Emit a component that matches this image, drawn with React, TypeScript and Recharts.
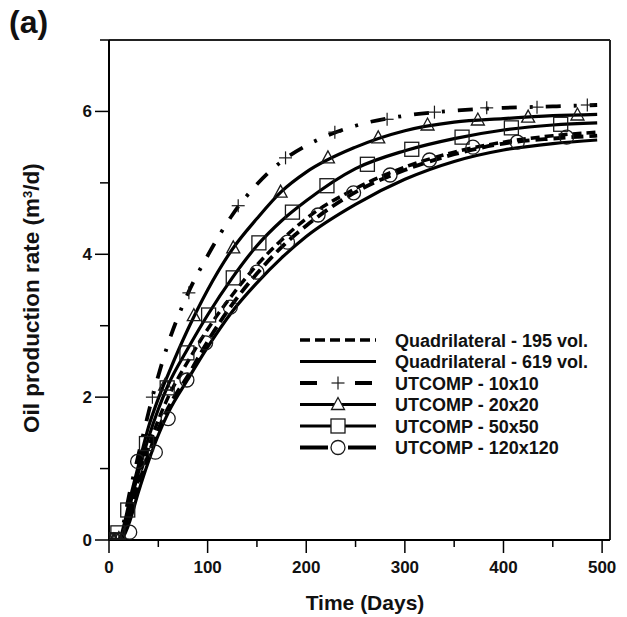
import React from "react";
import { ComposedChart, Line, XAxis, YAxis, ReferenceLine } from "recharts";

const FONT = "'Liberation Sans', Arial, Helvetica, sans-serif";

// days at which the simulated curves were sampled
const DAYS = [0, 10, 15, 20, 30, 40, 50, 60, 80, 100, 125, 150, 175, 200, 250, 300, 350, 400, 450, 495];

const QUAD_195 = [0, 0, 0.12, 0.35, 0.85, 1.3, 1.68, 2.0, 2.5, 2.95, 3.43, 3.85, 4.2, 4.5, 4.92, 5.22, 5.43, 5.57, 5.66, 5.71];
const QUAD_619 = [0, 0, 0.06, 0.22, 0.68, 1.1, 1.47, 1.78, 2.25, 2.7, 3.2, 3.6, 3.95, 4.25, 4.7, 5.05, 5.3, 5.46, 5.55, 5.6];
const UT_10 = [0, 0, 0.25, 0.6, 1.2, 1.78, 2.3, 2.75, 3.45, 3.98, 4.55, 4.98, 5.3, 5.52, 5.8, 5.94, 6.01, 6.05, 6.07, 6.09];
const UT_20 = [0, 0, 0.2, 0.5, 1.05, 1.58, 1.98, 2.32, 2.95, 3.5, 4.07, 4.5, 4.88, 5.15, 5.5, 5.73, 5.85, 5.9, 5.94, 5.96];
const UT_50 = [0, 0, 0.15, 0.42, 0.95, 1.43, 1.83, 2.17, 2.68, 3.15, 3.67, 4.12, 4.47, 4.75, 5.2, 5.45, 5.62, 5.74, 5.81, 5.84];
const UT_120 = [0, 0, 0.1, 0.3, 0.78, 1.2, 1.55, 1.85, 2.3, 2.78, 3.3, 3.73, 4.1, 4.4, 4.87, 5.18, 5.4, 5.55, 5.62, 5.66];

// marker points (day, rate)
const MARK_10 = [[0, 0], [5, 0], [10, 0.02], [44, 2.0], [81, 3.46], [131, 4.68], [179, 5.35], [229, 5.71], [282, 5.89], [330, 5.99], [383, 6.05], [434, 6.06], [485, 6.09]];
const MARK_20 = [[0, 0], [5, 0], [10, 0.02], [57, 2.17], [86, 3.14], [126, 4.09], [174, 4.87], [222, 5.35], [273, 5.63], [323, 5.81], [374, 5.88], [425, 5.92], [475, 5.95]];
const MARK_50 = [[0, 0], [5, 0], [9, 0.1], [19, 0.42], [38, 1.35], [59, 2.13], [79, 2.62], [101, 3.15], [126, 3.67], [152, 4.16], [186, 4.59], [221, 4.96], [262, 5.26], [307, 5.47], [358, 5.64], [408, 5.77], [458, 5.82]];
const MARK_120 = [[0, 0], [5, 0], [10, 0], [21, 0.11], [29, 1.1], [47, 1.23], [60, 1.7], [79, 2.24], [98, 2.76], [123, 3.26], [150, 3.75], [181, 4.17], [212, 4.55], [248, 4.86], [285, 5.11], [325, 5.32], [369, 5.5], [414, 5.57], [464, 5.64]];

const X_TICKS = [0, 50, 100, 150, 200, 250, 300, 350, 400, 450, 500];
const Y_TICKS = [0, 1, 2, 3, 4, 5, 6, 7];

const SERIES = [
  { key: "q195", name: "Quadrilateral - 195 vol.", values: QUAD_195, dash: "9 5", width: 3.5, marker: null, marks: null, legendDash: "10 5" },
  { key: "q619", name: "Quadrilateral - 619 vol.", values: QUAD_619, dash: undefined, width: 3.2, marker: null, marks: null, legendDash: undefined },
  { key: "u10", name: "UTCOMP - 10x10", values: UT_10, dash: "15 13 3 13", width: 3.8, marker: "plus", marks: MARK_10, legendDash: "17 38 17" },
  { key: "u20", name: "UTCOMP - 20x20", values: UT_20, dash: undefined, width: 3.2, marker: "tri", marks: MARK_20, legendDash: undefined },
  { key: "u50", name: "UTCOMP - 50x50", values: UT_50, dash: undefined, width: 3.2, marker: "square", marks: MARK_50, legendDash: undefined },
  { key: "u120", name: "UTCOMP - 120x120", values: UT_120, dash: "12 6", width: 3.8, marker: "circle", marks: MARK_120, legendDash: "28 20 28" },
];

const rows = DAYS.map((d, i) => {
  const r: Record<string, number> = { d };
  SERIES.forEach((s) => (r[s.key] = s.values[i]));
  return r;
});

function Marker({ cx, cy, kind, fill = "none" }: { cx: number; cy: number; kind: string; fill?: string }) {
  const st = { stroke: "#1a1a1a", strokeWidth: 1.3, fill };
  if (kind === "plus")
    return (
      <g stroke="#1a1a1a" strokeWidth={1.2}>
        <line x1={cx - 6.5} x2={cx + 6.5} y1={cy} y2={cy} />
        <line x1={cx} x2={cx} y1={cy - 6.5} y2={cy + 6.5} />
      </g>
    );
  if (kind === "tri")
    return <polygon points={`${cx},${cy - 7} ${cx - 6.5},${cy + 5} ${cx + 6.5},${cy + 5}`} {...st} />;
  if (kind === "square") return <rect x={cx - 7} y={cy - 7} width={14} height={14} {...st} />;
  return <circle cx={cx} cy={cy} r={7} {...st} />;
}

function XTick(props: any) {
  const { x, y, payload } = props;
  const major = payload.value % 100 === 0;
  return (
    <g>
      <line x1={x} x2={x} y1={y} y2={y + (major ? 13 : 7)} stroke="#000" strokeWidth={1.5} />
      {major && (
        <text x={x} y={y + 33} textAnchor="middle" fontFamily={FONT} fontWeight="bold" fontSize={17} fill="#111">
          {payload.value}
        </text>
      )}
    </g>
  );
}

function YTick(props: any) {
  const { x, y, payload } = props;
  const major = payload.value % 2 === 0 && payload.value < 7;
  return (
    <g>
      <line x1={x - (major ? 14 : 9)} x2={x} y1={y} y2={y} stroke="#000" strokeWidth={1.5} />
      {major && (
        <text x={x - 17} y={y + 6} textAnchor="end" fontFamily={FONT} fontWeight="bold" fontSize={17} fill="#111">
          {payload.value}
        </text>
      )}
    </g>
  );
}

function LegendBox() {
  return (
    <svg width={330} height={135} style={{ position: "absolute", left: 296, top: 328 }}>
      {SERIES.map((s, i) => {
        const cy = 12 + i * 21.5;
        return (
          <g key={s.key}>
            <line x1={4} x2={80} y1={cy} y2={cy} stroke="#000" strokeWidth={s.width} strokeDasharray={s.legendDash} />
            {s.marker && <Marker cx={42} cy={cy} kind={s.marker} fill="#fff" />}
            <text x={99} y={cy + 6.5} fontFamily={FONT} fontWeight="bold" fontSize={18} fill="#111">
              {s.name}
            </text>
          </g>
        );
      })}
    </svg>
  );
}

export default function App() {
  return (
    <div style={{ position: "absolute", left: 0, top: 0, width: 627, height: 617, background: "#fff" }}>
      <div style={{ position: "absolute", left: 9, top: 4, fontFamily: FONT, fontWeight: "bold", fontSize: 32, color: "#111" }}>
        (a)
      </div>
      <ComposedChart width={627} height={617} data={rows} margin={{ top: 40, right: 17, bottom: 17, left: 0 }}>
        <XAxis
          dataKey="d"
          type="number"
          domain={[0, 508]}
          allowDataOverflow
          ticks={X_TICKS}
          interval={0}
          tickSize={0}
          tickMargin={0}
          tickLine={false}
          axisLine={{ stroke: "#000", strokeWidth: 2 }}
          tick={<XTick />}
          height={60}
          label={{
            content: () => (
              <text x={365} y={610} textAnchor="middle" fontFamily={FONT} fontWeight="bold" fontSize={21} fill="#111">
                Time (Days)
              </text>
            ),
          }}
        />
        <YAxis
          type="number"
          domain={[0, 7]}
          allowDataOverflow
          ticks={Y_TICKS}
          interval={0}
          tickSize={0}
          tickMargin={0}
          tickLine={false}
          axisLine={{ stroke: "#000", strokeWidth: 2 }}
          tick={<YTick />}
          width={109}
          label={{
            content: () => (
              <text
                transform="translate(39,433) rotate(-90)"
                textAnchor="start"
                fontFamily={FONT}
                fontWeight="bold"
                fontSize={22.5}
                fill="#111"
              >
                Oil production rate (m<tspan fontSize={13} baselineShift="super">3</tspan>/d)
              </text>
            ),
          }}
        />
        <ReferenceLine y={7} stroke="#222" strokeWidth={2} />
        <ReferenceLine x={508} stroke="#222" strokeWidth={2} />
        {SERIES.map((s) => (
          <Line
            key={s.key}
            dataKey={s.key}
            type="monotone"
            stroke="#000"
            strokeWidth={s.width}
            strokeDasharray={s.dash}
            dot={false}
            activeDot={false}
            isAnimationActive={false}
          />
        ))}
        {SERIES.filter((s) => s.marks).map((s) => (
          <Line
            key={s.key + "-m"}
            data={(s.marks as number[][]).map(([d, v]) => ({ d, v }))}
            dataKey="v"
            stroke="none"
            legendType="none"
            dot={(p: any) => <Marker key={p.index} cx={p.cx} cy={p.cy} kind={s.marker as string} />}
            activeDot={false}
            isAnimationActive={false}
          />
        ))}
      </ComposedChart>
      <LegendBox />
    </div>
  );
}
